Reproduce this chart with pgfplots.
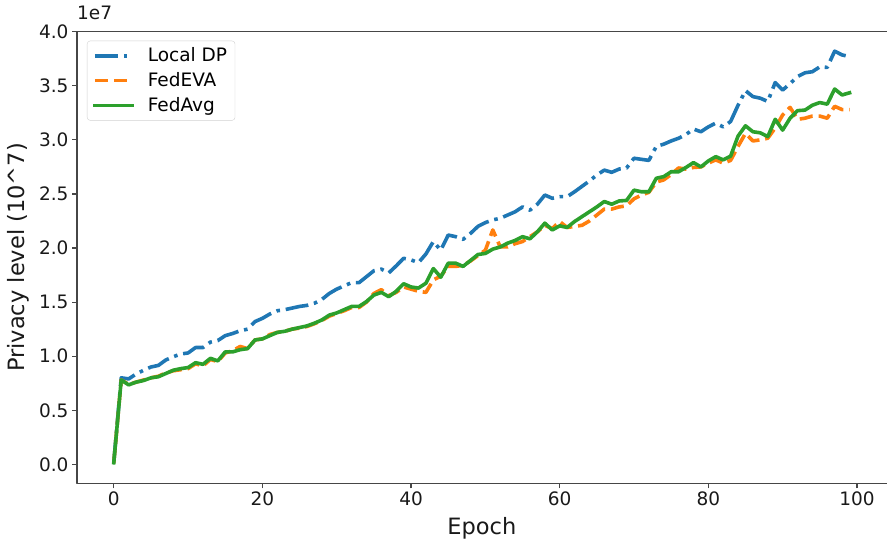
\documentclass[border=0pt]{standalone}
\usepackage{pgfplots}
\usepackage{pgfplotstable}
\pgfplotsset{compat=1.18}
\usepackage{fontspec}
\setmainfont{DejaVu Sans}
\definecolor{tabblue}{RGB}{31,119,180}
\definecolor{taborange}{RGB}{255,127,14}
\definecolor{tabgreen}{RGB}{44,160,44}
\definecolor{spine}{RGB}{70,70,70}
\pgfplotstableread{
e ldp eva avg
0 0.02 0.015 0.015
1 0.80 0.78 0.78
2 0.79 0.74 0.735
3 0.835 0.76 0.76
4 0.87 0.78 0.775
5 0.90 0.80 0.80
6 0.915 0.815 0.81
7 0.965 0.845 0.84
8 0.995 0.865 0.87
9 1.02 0.875 0.885
10 1.03 0.885 0.895
11 1.08 0.93 0.94
12 1.08 0.91 0.925
13 1.13 0.97 0.98
14 1.145 0.95 0.957
15 1.19 1.03 1.04
16 1.21 1.05 1.04
17 1.235 1.09 1.06
18 1.25 1.07 1.07
19 1.32 1.15 1.15
20 1.35 1.16 1.16
21 1.39 1.20 1.19
22 1.42 1.22 1.22
23 1.43 1.23 1.23
24 1.445 1.25 1.25
25 1.46 1.26 1.265
26 1.47 1.275 1.28
27 1.49 1.30 1.305
28 1.525 1.33 1.335
29 1.58 1.37 1.38
30 1.62 1.395 1.40
31 1.65 1.42 1.43
32 1.68 1.45 1.46
33 1.68 1.45 1.46
34 1.735 1.50 1.505
35 1.79 1.58 1.565
36 1.805 1.615 1.59
37 1.77 1.56 1.55
38 1.835 1.59 1.60
39 1.905 1.64 1.67
40 1.89 1.62 1.64
41 1.865 1.60 1.63
42 1.945 1.59 1.675
43 2.06 1.705 1.81
44 1.98 1.74 1.73
45 2.12 1.83 1.86
46 2.105 1.83 1.86
47 2.08 1.84 1.83
48 2.135 1.88 1.885
49 2.20 1.93 1.94
50 2.235 1.98 1.95
51 2.26 2.167 1.99
52 2.275 2.01 2.01
53 2.305 2.01 2.045
54 2.335 2.04 2.07
55 2.38 2.06 2.105
56 2.35 2.105 2.085
57 2.405 2.15 2.15
58 2.49 2.21 2.23
59 2.46 2.18 2.167
60 2.475 2.245 2.205
61 2.475 2.19 2.19
62 2.52 2.20 2.245
63 2.57 2.21 2.29
64 2.62 2.25 2.335
65 2.675 2.305 2.38
66 2.72 2.36 2.43
67 2.70 2.36 2.405
68 2.73 2.38 2.435
69 2.74 2.39 2.44
70 2.83 2.455 2.535
71 2.82 2.49 2.52
72 2.81 2.515 2.52
73 2.94 2.61 2.645
74 2.96 2.63 2.66
75 2.99 2.68 2.705
76 3.015 2.74 2.705
77 3.05 2.73 2.745
78 3.10 2.745 2.79
79 3.075 2.75 2.75
80 3.12 2.785 2.805
81 3.155 2.815 2.845
82 3.12 2.785 2.815
83 3.17 2.81 2.85
84 3.32 2.94 3.035
85 3.455 3.06 3.13
86 3.40 2.99 3.075
87 3.385 3.00 3.065
88 3.355 3.015 3.03
89 3.53 3.11 3.19
90 3.46 3.23 3.09
91 3.52 3.30 3.20
92 3.585 3.19 3.27
93 3.62 3.20 3.275
94 3.63 3.22 3.32
95 3.675 3.22 3.345
96 3.67 3.20 3.33
97 3.82 3.31 3.47
98 3.785 3.28 3.415
99 3.77 3.28 3.435
}\data
\begin{document}
\begin{tikzpicture}
\begin{axis}[
  at={(0,0)}, anchor=south west,
  scale only axis, width=816pt, height=451.6pt,
  xmin=-4.95, xmax=104.85, ymin=-0.175, ymax=4.0,
  xtick={0,20,40,60,80,100},
  ytick={0,0.5,1,1.5,2,2.5,3,3.5,4},
  yticklabel style={/pgf/number format/.cd, fixed, fixed zerofill, precision=1},
  /pgf/number format/assume math mode=true,
  tick label style={font=\fontsize{18.5}{22}\selectfont, text=black!90},
  tick align=outside, tick pos=left,
  major tick length=5pt,
  every tick/.style={spine, line width=1.2pt},
  axis line style={spine, line width=1.5pt},
  xlabel={Epoch}, ylabel={Privacy level (10\textasciicircum 7)},
  label style={font=\fontsize{22.5}{26}\selectfont, text=black!90},
  xlabel style={at={(axis description cs:0.4962,-0.1123)}, anchor=base},
  ylabel style={at={(axis description cs:-0.0723,0.5)}, anchor=center},
  legend style={at={(0.01225,0.98)}, anchor=north west,
    draw=black!18, rounded corners=3pt, fill=white, fill opacity=0.8, text opacity=1,
    font=\fontsize{18.5}{22}\selectfont, inner xsep=6pt, inner ysep=5pt,
    nodes={inner sep=2pt}, column sep=12pt, row sep=5.4pt},
  legend cell align=left,
  legend image code/.code={\draw[#1] (0pt,0pt) -- (37pt,0pt);},
  line join=round,
]
\addplot[tabblue, line width=3.6pt, dash pattern=on 23pt off 5.8pt on 3.6pt off 5.8pt] table[x=e,y=ldp] {\data};
\addlegendentry{Local DP}
\addplot[taborange, line width=3.6pt, dash pattern=on 13.3pt off 5.8pt] table[x=e,y=eva] {\data};
\addlegendentry{FedEVA}
\addplot[tabgreen, line width=3.6pt, line cap=rect] table[x=e,y=avg] {\data};
\addlegendentry{FedAvg}
\end{axis}
\node[anchor=base west, inner sep=0pt, font=\fontsize{18.5}{22}\selectfont, text=black!90] at (0pt,463.3pt) {1e7};
\pgfresetboundingbox
\path[use as bounding box] (-77pt,-61.7pt) rectangle (810pt,483.3pt);
\end{tikzpicture}
\end{document}
